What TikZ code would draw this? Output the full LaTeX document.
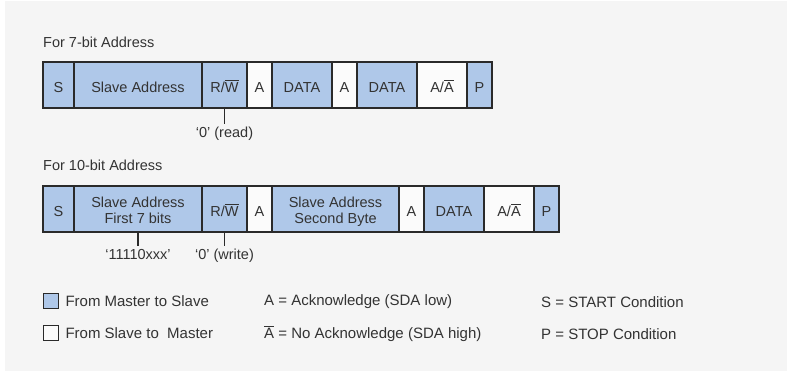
\documentclass[tikz,border=0pt]{standalone}
\usepackage{fontspec}
\setmainfont{Liberation Sans}
\usepackage{xcolor}
\usepackage{tikz}
\usetikzlibrary{positioning}
\definecolor{mtos}{HTML}{AFC8E9}
\definecolor{stom}{HTML}{FBFBFB}
\definecolor{framegray}{HTML}{2A2A2A}
\definecolor{textgray}{HTML}{333333}
\definecolor{bggray}{HTML}{F5F5F5}
\newcommand{\ovl}[1]{\leavevmode\vbox{\hrule height 1.3pt\kern1.3pt\hbox{#1}}}

\begin{document}
\begin{tikzpicture}[
    x=1pt, y=-1pt,
    font=\fontsize{14.5}{15.5}\selectfont,
    text=textgray,
    cell/.style={rectangle, draw=framegray, line width=2pt, fill=#1, minimum height=46pt, inner sep=0pt, outer sep=0pt, align=center, text height=15pt, text depth=0pt},
    cell/.default=mtos,
    twoline/.style={text height=29pt, text depth=0pt},
    tick/.style={draw=framegray, line width=1.6pt},
    note/.style={inner sep=3pt},
    heading/.style={anchor=west, inner sep=0pt},
    keybox/.style={rectangle, draw=framegray, line width=1.6pt, fill=#1, minimum size=15pt, inner sep=0pt},
    keytext/.style={anchor=west, inner sep=0pt, font=\fontsize{15}{16}\selectfont},
]
    \fill[white] (0,0) rectangle (787,371);
    \fill[bggray] (5,1) rectangle (787,371);

    % 7-bit address frame
    \node[heading] (head7) at (43,42) {For 7-bit Address};
    \node[cell, minimum width=31pt] (s1) at (58.5,85) {S};
    \node[cell, minimum width=128pt, right=0pt of s1] (addr1) {Slave Address};
    \node[cell, minimum width=45pt, right=0pt of addr1] (rw1) {R/\ovl{W}};
    \node[cell=stom, minimum width=25pt, right=0pt of rw1] (ack1) {A};
    \node[cell, minimum width=60pt, right=0pt of ack1] (data1) {DATA};
    \node[cell=stom, minimum width=25pt, right=0pt of data1] (ack2) {A};
    \node[cell, minimum width=60pt, right=0pt of ack2] (data2) {DATA};
    \node[cell=stom, minimum width=50pt, right=0pt of data2] (nack1) {A/\ovl{A}};
    \node[cell, minimum width=25pt, right=0pt of nack1] (p1) {P};

    \node[note, below=16pt of rw1] (read) {‘0’ (read)};
    \draw[tick] (rw1.south) -- (read.north);

    % 10-bit address frame
    \node[heading] (head10) at (43,165) {For 10-bit Address};
    \node[cell, minimum width=31pt] (s2) at (58.5,209) {S};
    \node[cell, twoline, minimum width=128pt, right=0pt of s2] (addr2) {Slave Address\\First 7 bits};
    \node[cell, minimum width=45pt, right=0pt of addr2] (rw2) {R/\ovl{W}};
    \node[cell=stom, minimum width=25pt, right=0pt of rw2] (ack3) {A};
    \node[cell, twoline, minimum width=127pt, right=0pt of ack3] (addr3) {Slave Address\\Second Byte};
    \node[cell=stom, minimum width=25pt, right=0pt of addr3] (ack4) {A};
    \node[cell, minimum width=60pt, right=0pt of ack4] (data3) {DATA};
    \node[cell=stom, minimum width=50pt, right=0pt of data3] (nack2) {A/\ovl{A}};
    \node[cell, minimum width=25pt, right=0pt of nack2] (p2) {P};

    \node[note, below=14pt of addr2] (prefix) {‘11110xxx’};
    \node[note, below=14pt of rw2] (write) {‘0’ (write)};
    \draw[tick] (addr2.south) -- (prefix.north);
    \draw[tick] (rw2.south) -- (write.north);

    % legend
    \node[keybox=mtos] (keym) at (51,301) {};
    \node[keybox=stom] (keys) at (51,333) {};
    \node[keytext, right=6pt of keym] (keymtext) {From Master to Slave};
    \node[keytext, right=6pt of keys] (keystext) {From Slave to~~Master};
    \node[keytext] (acktext) at (264,302) {A = Acknowledge (SDA low)};
    \node[keytext] (nacktext) at (264,334) {\ovl{A} = No Acknowledge (SDA high)};
    \node[keytext] (starttext) at (541,302) {S = START Condition};
    \node[keytext] (stoptext) at (541,334) {P = STOP Condition};
\end{tikzpicture}
\end{document}
